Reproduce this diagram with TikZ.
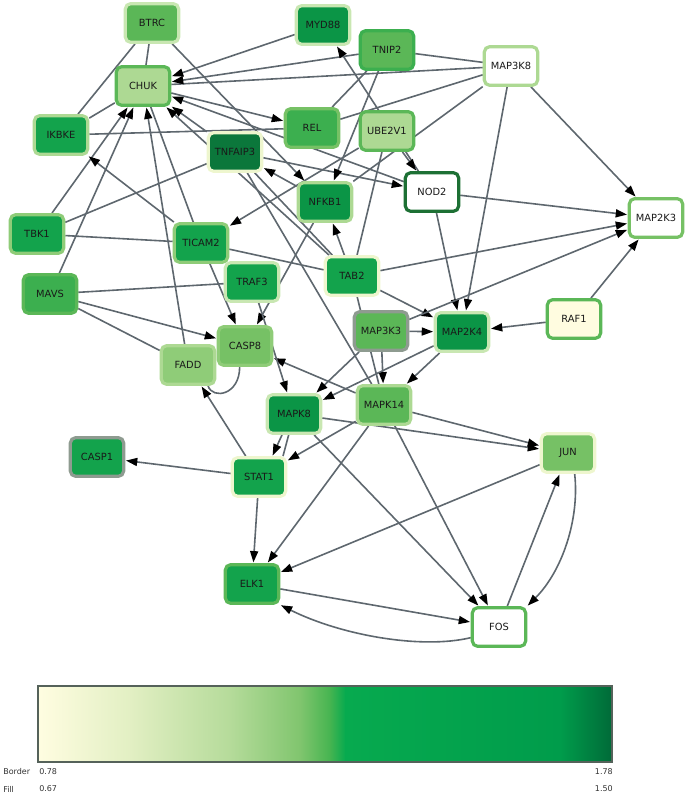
\documentclass[tikz,border=0pt]{standalone}
\usepackage{fontspec}
\newfontfamily\genefont{DejaVu Sans}
\usetikzlibrary{arrows.meta,backgrounds}
\definecolor{c1}{HTML}{EEF6CE}
\definecolor{c2}{HTML}{C9E7B2}
\definecolor{c3}{HTML}{ADD993}
\definecolor{c4}{HTML}{8FCC78}
\definecolor{c5}{HTML}{76C165}
\definecolor{c6}{HTML}{5BB757}
\definecolor{c7}{HTML}{3CAF4F}
\definecolor{c8}{HTML}{13A34C}
\definecolor{c9}{HTML}{0B9546}
\definecolor{c10}{HTML}{0B773B}
\definecolor{c11}{HTML}{1D7034}
\definecolor{cy}{HTML}{FFFCE0}
\definecolor{grayb}{HTML}{8E9B90}
\definecolor{linkgray}{HTML}{5E676E}
\definecolor{barline}{HTML}{55625A}
\definecolor{g0}{HTML}{FFFDE1}
\definecolor{g1}{HTML}{E2EFC3}
\definecolor{g2}{HTML}{B5DB9A}
\definecolor{g3}{HTML}{80C56E}
\definecolor{g4}{HTML}{45B450}
\definecolor{g5}{HTML}{07AA4F}
\definecolor{g6}{HTML}{009C4B}
\definecolor{g7}{HTML}{006A38}

\begin{document}
\begin{tikzpicture}[x=0.75pt,y=-0.75pt,
  gene/.style={draw,rounded corners=4pt,line width=2.4pt,minimum width=40pt,
    minimum height=29pt,inner sep=1pt,text=black!90,
    font=\genefont\fontsize{7.4}{8}\selectfont},
  link/.style={draw=linkgray,line width=1.2pt},
  act/.style={link,-{Triangle[length=8.5pt,width=6pt,color=black]},shorten >=0.5pt},
  legend/.style={inner sep=0pt,font=\genefont\fontsize{6}{7}\selectfont,text=black!80}]
  \useasboundingbox (0,0) rectangle (690,796);
  % genes
  \node[gene,fill=c6,draw=c2] (BTRC) at (152,23) {BTRC};
  \node[gene,fill=c9,draw=c2] (MYD88) at (323,25) {MYD88};
  \node[gene,fill=c6,draw=c7] (TNIP2) at (387,50) {TNIP2};
  \node[gene,fill=white,draw=c3] (MAP3K8) at (511,66) {MAP3K8};
  \node[gene,fill=c3,draw=c6] (CHUK) at (143,86) {CHUK};
  \node[gene,fill=c8,draw=c3] (IKBKE) at (61,135) {IKBKE};
  \node[gene,fill=c7,draw=c5] (REL) at (312,128) {REL};
  \node[gene,fill=c3,draw=c6] (UBE2V1) at (387,131) {UBE2V1};
  \node[gene,fill=c10,draw=c1] (TNFAIP3) at (235,152) {TNFAIP3};
  \node[gene,fill=white,draw=c11] (NOD2) at (432,192) {NOD2};
  \node[gene,fill=c9,draw=c3] (NFKB1) at (325,202) {NFKB1};
  \node[gene,fill=white,draw=c5] (MAP2K3) at (656,218) {MAP2K3};
  \node[gene,fill=c8,draw=c4] (TBK1) at (37,234) {TBK1};
  \node[gene,fill=c8,draw=c4] (TICAM2) at (201,243) {TICAM2};
  \node[gene,fill=c8,draw=c1] (TAB2) at (352,276) {TAB2};
  \node[gene,fill=c8,draw=c2] (TRAF3) at (252,282) {TRAF3};
  \node[gene,fill=c7,draw=c6] (MAVS) at (50,294) {MAVS};
  \node[gene,fill=cy,draw=c6] (RAF1) at (574,319) {RAF1};
  \node[gene,fill=c6,draw=grayb] (MAP3K3) at (381,331) {MAP3K3};
  \node[gene,fill=c9,draw=c2] (MAP2K4) at (462,332) {MAP2K4};
  \node[gene,fill=c5,draw=c4] (CASP8) at (245,346) {CASP8};
  \node[gene,fill=c4,draw=c3] (FADD) at (188,365) {FADD};
  \node[gene,fill=c9,draw=c2] (MAPK8) at (294,414) {MAPK8};
  \node[gene,fill=c6,draw=c3] (MAPK14) at (384,405) {MAPK14};
  \node[gene,fill=c5,draw=c1] (JUN) at (568,453) {JUN};
  \node[gene,fill=c8,draw=grayb] (CASP1) at (97,457) {CASP1};
  \node[gene,fill=c8,draw=c1] (STAT1) at (259,477) {STAT1};
  \node[gene,fill=c8,draw=c6] (ELK1) at (252,584) {ELK1};
  \node[gene,fill=white,draw=c6] (FOS) at (499,627) {FOS};
  % interactions
  \begin{scope}[on background layer]
    \foreach \a/\b in {BTRC/CHUK,BTRC/IKBKE,IKBKE/CHUK,IKBKE/REL,CHUK/MAP3K8,
      TICAM2/CHUK,TBK1/TICAM2,TBK1/TNFAIP3,MAVS/TRAF3,MAVS/FADD,TNIP2/MAP3K8,
      REL/TNIP2,REL/MAP3K8,NFKB1/MAP3K8,TAB2/UBE2V1,TICAM2/TAB2,TNFAIP3/TAB2,
      TNFAIP3/MAPK14,TAB2/MAPK14}
      \draw[link] (\a) -- (\b);
    \foreach \a/\b in {MYD88/CHUK,TNIP2/CHUK,NOD2/CHUK,TNFAIP3/CHUK,TAB2/CHUK,
      TBK1/CHUK,MAVS/CHUK,FADD/CHUK,CHUK/REL,TICAM2/IKBKE,BTRC/NFKB1,NOD2/MYD88,
      UBE2V1/NOD2,TNFAIP3/NOD2,TNIP2/NFKB1,UBE2V1/TICAM2,NFKB1/TNFAIP3,TAB2/NFKB1,
      NFKB1/CASP8,TICAM2/CASP8,MAVS/CASP8,MAPK14/CASP8,TRAF3/MAPK8,STAT1/FADD,
      MAP3K8/MAP2K3,MAP3K8/MAP2K4,NOD2/MAP2K3,NOD2/MAP2K4,TAB2/MAP2K3,TAB2/MAP2K4,
      MAP3K3/MAP2K3,MAP3K3/MAP2K4,RAF1/MAP2K3,RAF1/MAP2K4,MAP3K3/MAPK14,
      MAP3K3/MAPK8,MAP2K4/MAPK14,MAP2K4/MAPK8,MAPK14/STAT1,MAPK8/JUN,MAPK14/JUN,
      MAPK8/FOS,MAPK14/FOS,MAPK14/ELK1,STAT1/ELK1,STAT1/CASP1,JUN/ELK1,ELK1/FOS,
      FOS/JUN}
      \draw[act] (\a) -- (\b);
    \draw[act] ([xshift=-9pt]MAPK8.south) -- ([xshift=10pt]STAT1.north);
    \draw[link] ([xshift=-4pt]MAPK8.south) -- ([xshift=18pt]STAT1.north);
    \draw[act] ([xshift=5pt]JUN.south) .. controls +(5,45) and +(35,-35) .. (FOS.north east);
    \draw[act] ([yshift=-8pt]FOS.west) .. controls +(-50,12) and +(60,30) .. (ELK1.south east);
    \draw[link] ([xshift=15pt]FADD.south) .. controls +(5,14) and +(0,28) .. ([xshift=-4pt]CASP8.south);
  \end{scope}
  % colour scale
  \foreach \xa/\xb/\ca/\cb in {38/130/g0/g1,130/230/g1/g2,230/300/g2/g3,
    300/330/g3/g4,330/345/g4/g5,345/560/g5/g6,560/612/g6/g7}
    \shade[left color=\ca,right color=\cb] (\xa,686) rectangle (\xb+0.6,762);
  \draw[barline,line width=0.8pt] (38,686) rectangle (612,762);
  \node[legend,anchor=west] (lbBorder) at (3,772) {Border};
  \node[legend,anchor=west] (lbBmin) at (39,772) {0.78};
  \node[legend,anchor=east] (lbBmax) at (613,772) {1.78};
  \node[legend,anchor=west] (lbFill) at (3,789) {Fill};
  \node[legend,anchor=west] (lbFmin) at (39,789) {0.67};
  \node[legend,anchor=east] (lbFmax) at (613,789) {1.50};
\end{tikzpicture}
\end{document}
